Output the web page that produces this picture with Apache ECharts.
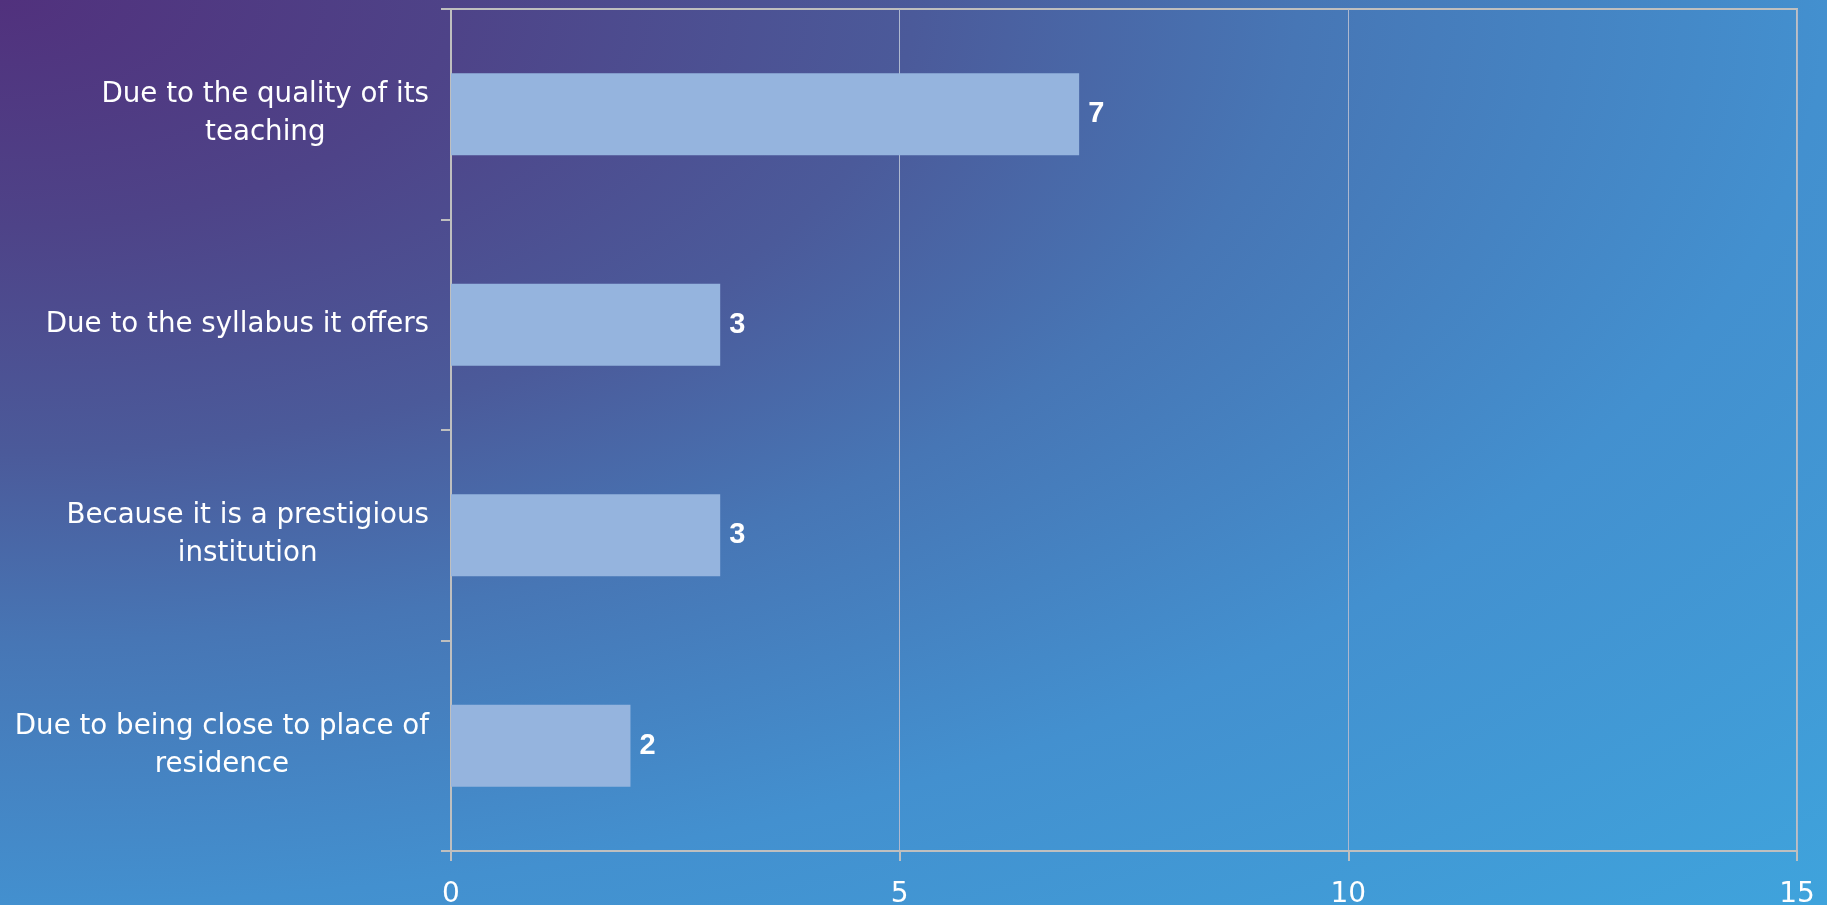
<!DOCTYPE html>
<html>
<head>
<meta charset="utf-8">
<script src="https://cdn.jsdelivr.net/npm/echarts@6/dist/echarts.min.js"></script>
<style>
  html, body { margin: 0; padding: 0; width: 1827px; height: 905px; overflow: hidden; }
  body {
    background: radial-gradient(1827px 905px at 0 0, #51317D 0%, #4E4388 25%, #4B5A9A 50%, #4776B5 71%, #4390CF 100%, #3FA3DC 141%);
  }
  #chart { width: 1827px; height: 905px; }
</style>
</head>
<body>
<div id="chart"></div>
<script>
const categories = [
  'Due to the quality of its\nteaching',
  'Due to the syllabus it offers',
  'Because it is a prestigious\ninstitution',
  'Due to being close to place of\nresidence'
];
const values = [7, 3, 3, 2];
const xMin = 0, xMax = 15, xInterval = 5;

const chart = echarts.init(document.getElementById('chart'), null, { renderer: 'canvas' });
chart.setOption({
  backgroundColor: 'transparent',
  animation: false,
  grid: {
    left: 451, right: 30, top: 9, bottom: 54,
    containLabel: false, outerBoundsMode: 'none',
    show: true, borderColor: '#bfbfbf', borderWidth: 2, backgroundColor: 'transparent'
  },
  xAxis: {
    type: 'value', min: xMin, max: xMax, interval: xInterval,
    axisLine: { show: true, lineStyle: { color: '#bfbfbf', width: 2 } },
    axisTick: { show: true, length: 10, lineStyle: { color: '#bfbfbf', width: 2 } },
    splitLine: { show: true, lineStyle: { color: '#aeb8cf', width: 1 } },
    axisLabel: { color: '#ffffff', fontSize: 28, fontFamily: 'DejaVu Sans', margin: 30 }
  },
  yAxis: {
    type: 'category', inverse: true, data: categories,
    axisLine: { show: true, lineStyle: { color: '#bfbfbf', width: 2 } },
    axisTick: { show: true, length: 10, lineStyle: { color: '#bfbfbf', width: 2 } },
    splitLine: { show: false },
    axisLabel: {
      align: 'right', margin: 22, color: '#ffffff',
      formatter: function (v) { return v.split('\n').map(function (l) { return '{c|' + l + '}'; }).join('\n'); },
      rich: { c: { align: 'center', color: '#ffffff', fontSize: 27.7, fontFamily: 'DejaVu Sans', lineHeight: 38 } }
    }
  },
  series: [{
    type: 'bar', data: values, barWidth: 82,
    itemStyle: { color: '#95B4DE' },
    label: { show: true, position: 'right', distance: 9, color: '#ffffff', fontWeight: 'bold', fontSize: 29, fontFamily: 'Liberation Sans, Arial, sans-serif' }
  }]
});
</script>
</body>
</html>
